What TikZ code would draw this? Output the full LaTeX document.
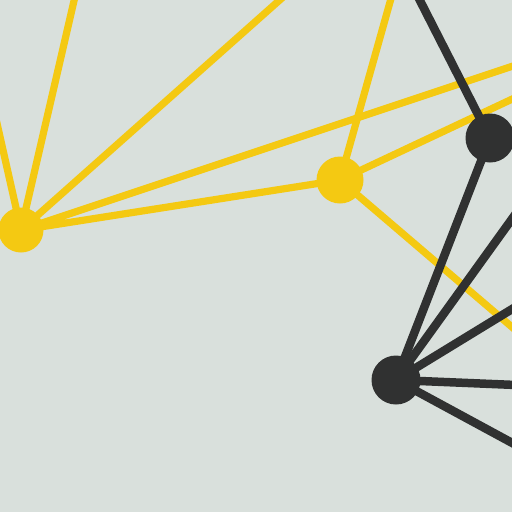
\documentclass[tikz,border=0pt]{standalone}
\definecolor{wall}{HTML}{D9E0DC}
\definecolor{paintyellow}{HTML}{F4C912}
\definecolor{paintblack}{HTML}{303131}
\begin{document}
\begin{tikzpicture}[x=1pt,y=-1pt,
  yline/.style={draw=paintyellow,line width=7.2pt},
  bline/.style={draw=paintblack,line width=8.5pt},
  ydot/.style={circle,fill=paintyellow,inner sep=0pt},
  bdot/.style={circle,fill=paintblack,inner sep=0pt}]
\useasboundingbox (0,0) rectangle (512,512);
\clip (0,0) rectangle (512,512);
\fill[wall] (0,0) rectangle (512,512);
% free ends (outside the frame)
\coordinate (a1) at (-6,110);
\coordinate (a2) at (76.5,-10);
\coordinate (a3) at (291,-10);
\coordinate (a4) at (540,57);
\coordinate (b1) at (393.4,-10);
\coordinate (b2) at (540,86);
\coordinate (b3) at (540,351);
\coordinate (c1) at (414.6,-10);
\coordinate (d1) at (540,180);
\coordinate (d2) at (540,292);
\coordinate (d3) at (540,386);
\coordinate (d4) at (540,458);
% node positions
\coordinate (pA) at (21,230);
\coordinate (pB) at (340,180);
\coordinate (pC) at (490,138);
\coordinate (pD) at (396,380);
% yellow network
\draw[yline] (pA) -- (a1) (pA) -- (a2) (pA) -- (a3) (pA) -- (a4) (pA) -- (pB);
\draw[yline] (pB) -- (b1) (pB) -- (b2) (pB) -- (b3);
\node[ydot,minimum size=45pt] (A) at (pA) {};
\node[ydot,minimum size=47pt] (B) at (pB) {};
% black network
\draw[bline] (pC) -- (c1) (pC) -- (pD);
\draw[bline] (pD) -- (d1) (pD) -- (d2) (pD) -- (d3) (pD) -- (d4);
\node[bdot,minimum size=49pt] (C) at (pC) {};
\node[bdot,minimum size=49pt] (D) at (pD) {};
\end{tikzpicture}
\end{document}
